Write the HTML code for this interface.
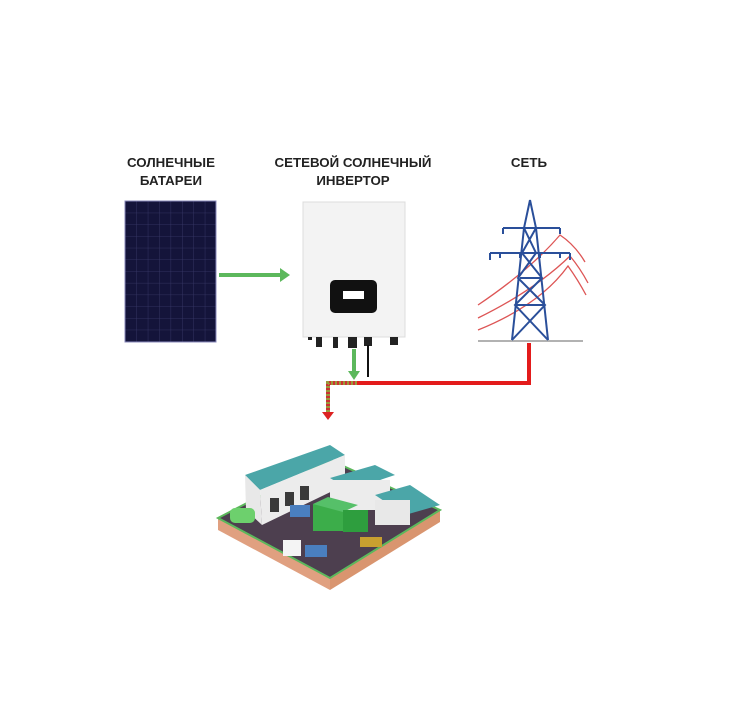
<!DOCTYPE html>
<html><head><meta charset="utf-8"><style>
html,body{margin:0;padding:0;background:#fff;}
svg{display:block;}
text{font-family:"Liberation Sans",sans-serif;font-weight:bold;fill:#222;font-size:13.3px;text-anchor:middle;}
</style></head><body>
<svg width="751" height="719" viewBox="0 0 751 719">
<text x="171" y="167">СОЛНЕЧНЫЕ</text>
<text x="171" y="185">БАТАРЕИ</text>
<text x="353" y="167">СЕТЕВОЙ СОЛНЕЧНЫЙ</text>
<text x="353" y="185">ИНВЕРТОР</text>
<text x="529" y="167">СЕТЬ</text>
<defs><pattern id="g" width="11.4" height="11.7" patternUnits="userSpaceOnUse" x="125" y="201"><rect width="11.4" height="11.7" fill="#14143a"/><path d="M0 0H11.4M0 0V11.7" stroke="#3a3a6a" stroke-width="0.8"/></pattern></defs>
<rect x="125" y="201" width="91" height="141" fill="url(#g)" stroke="#8888bb" stroke-width="1"/>
<line x1="219" y1="275" x2="282" y2="275" stroke="#5cb85c" stroke-width="4"/>
<polygon points="280,268 290,275 280,282" fill="#5cb85c"/>
<rect x="303" y="202" width="102" height="135" fill="#f3f3f3" stroke="#ddd"/>
<rect x="330" y="280" width="47" height="33" rx="5" fill="#111"/>
<rect x="343" y="291" width="21" height="8" fill="#fff"/>
<g fill="#222"><rect x="308" y="337" width="4" height="3"/><rect x="316" y="337" width="6" height="10"/><rect x="333" y="337" width="5" height="11"/><rect x="348" y="337" width="9" height="11"/><rect x="364" y="337" width="8" height="9"/><rect x="390" y="337" width="8" height="8"/></g>
<line x1="368" y1="345" x2="368" y2="377" stroke="#111" stroke-width="2"/>
<line x1="354" y1="349" x2="354" y2="372" stroke="#5cb85c" stroke-width="4"/>
<polygon points="348,371 354,380 360,371" fill="#5cb85c"/>
<polyline points="529,343 529,383 357,383" fill="none" stroke="#e31b1b" stroke-width="4"/>
<polyline points="357,383 328,383 328,414" fill="none" stroke="#c33" stroke-width="4"/>
<polyline points="357,383 328,383 328,414" fill="none" stroke="#9a9a3a" stroke-width="4" stroke-dasharray="2 2"/>
<polygon points="322,412 328,420 334,412" fill="#d22"/>
<g fill="none" stroke="#d55" stroke-width="1.3">
<path d="M478 305 Q530 270 560 235 Q575 245 585 262"/>
<path d="M478 318 Q535 290 570 256 Q580 268 588 283"/>
<path d="M478 330 Q540 305 568 266 Q578 280 586 295"/>
</g>
<line x1="478" y1="341" x2="583" y2="341" stroke="#999" stroke-width="1.5"/>
<g fill="none" stroke="#2a4f9a" stroke-width="2">
<path d="M530 200 L524 228 L512 340 M530 200 L536 228 L548 340"/>
<path d="M503 228 H560 M490 253 H570 M503 228v6 M560 228v6 M490 253v7 M570 253v7 M500 253v5 M520 253v5 M540 253v5 M560 253v5"/>
<path d="M524 228 L536 253 L518 278 L545 305 L512 340 M536 228 L522 253 L542 278 L515 305 L548 340"/>
<path d="M520 278 H542 M516 305 H545"/>
</g>
<polygon points="218,528 330,468 440,510 330,580" fill="#f2e2d0"/>
<polygon points="218,518 218,530 330,590 330,578" fill="#e0a080"/>
<polygon points="330,578 330,590 440,522 440,510" fill="#d9956f"/>
<polygon points="218,518 330,460 440,510 330,578" fill="#4d3f4f" stroke="#5cb85c" stroke-width="2"/>
<polygon points="245,475 330,445 345,455 260,490" fill="#4ba6a8"/>
<polygon points="245,475 260,490 262,525 246,510" fill="#e8e8e8"/>
<polygon points="260,490 345,455 345,485 262,525" fill="#ececec"/>
<g fill="#3a3a3a"><rect x="270" y="498" width="9" height="14"/><rect x="285" y="492" width="9" height="14"/><rect x="300" y="486" width="9" height="14"/></g>
<polygon points="330,478 375,465 395,475 350,490" fill="#4ba6a8"/>
<rect x="330" y="480" width="60" height="30" fill="#ececec"/>
<rect x="313" y="504" width="30" height="27" fill="#3cad4a"/>
<polygon points="313,504 328,497 358,505 343,512" fill="#56c069"/>
<rect x="343" y="510" width="25" height="22" fill="#2e9e3e"/>
<polygon points="375,495 410,485 440,505 405,515" fill="#4ba6a8"/>
<rect x="375" y="500" width="35" height="25" fill="#e8e8e8"/>
<rect x="230" y="508" width="25" height="15" fill="#6dd06d" rx="5"/>
<rect x="283" y="540" width="18" height="16" fill="#f4f4f4"/>
<rect x="305" y="545" width="22" height="12" fill="#4a7fbf"/>
<rect x="290" y="505" width="20" height="12" fill="#4a7fbf"/>
<rect x="360" y="537" width="22" height="10" fill="#c8a030"/>
</svg>
</body></html>
